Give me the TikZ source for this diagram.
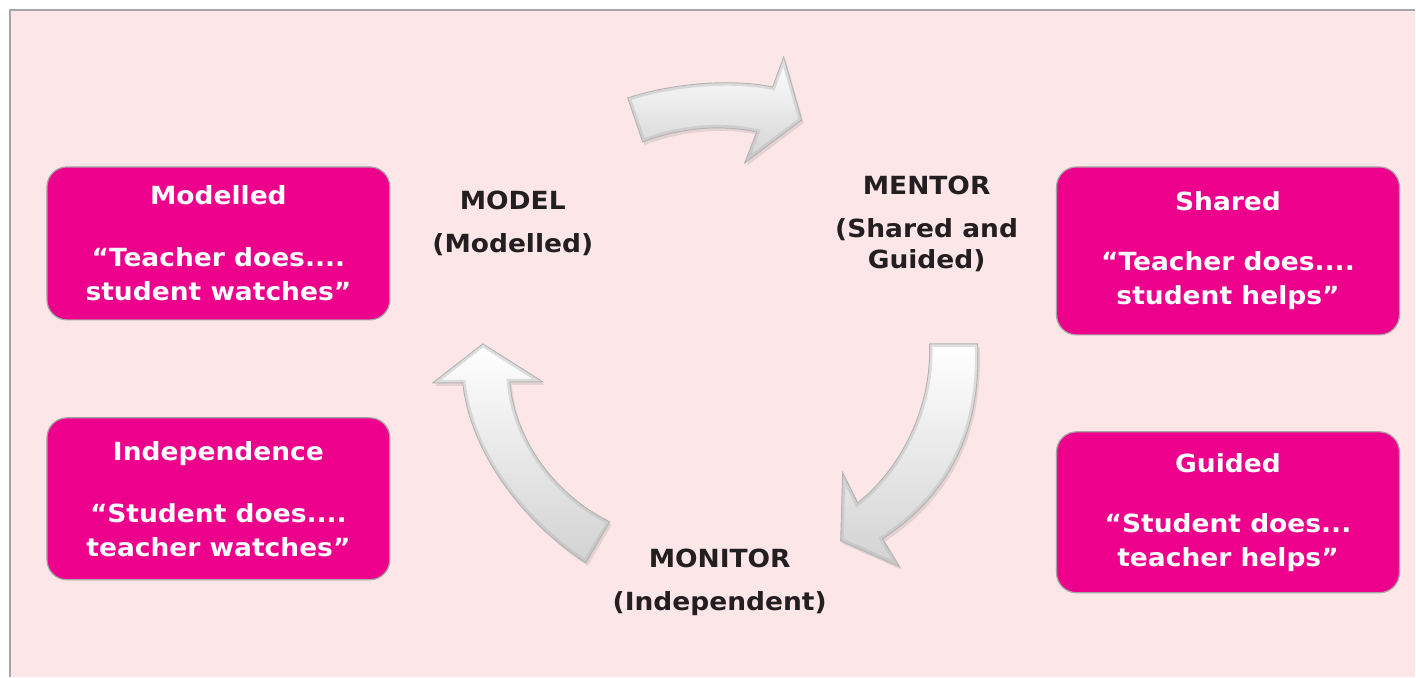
\documentclass[tikz,border=0pt]{standalone}
\usepackage{fontspec}
\setmainfont{DejaVu Sans}[FakeStretch=1.06]
\usepackage{tikz}
\usetikzlibrary{
    shadows
  , positioning
}
\definecolor{bgpink}{HTML}{FDE6E7}
\definecolor{cardpink}{HTML}{EC008C}
\definecolor{labeldark}{HTML}{231F20}
\tikzset{
  cardbox/.style={draw=gray!70, line width=1.2pt, fill=cardpink, rounded corners=20pt,
    minimum width=343pt, text=white, align=center,
    font=\bfseries\fontsize{25}{34}\selectfont},
  stagelabel/.style={text=labeldark, align=center,
    font=\bfseries\fontsize{25}{31}\selectfont},
  bigarrow/.style={draw=gray!60, line width=0.9pt, top color=white, bottom color=gray!35,
    drop shadow={opacity=0.2, shadow xshift=2pt, shadow yshift=-3pt}},
  arrowrim/.style={draw=gray!55, line width=6pt, opacity=0.45}
}
% arrow outlines
\newcommand\modelarrow{(628,98) .. controls (670,84) and (730,78) .. (773,87) -- (784,57) -- (802,120)
    -- (745,163) -- (757,132) .. controls (720,124) and (680,128) .. (643,142) -- cycle}
\newcommand\mentorarrow{(930,344) -- (978,344) .. controls (982,430) and (950,495) .. (883,539)
    -- (900,567) -- (841,541) -- (843,473) -- (858,503) .. controls (900,470) and (932,410) .. (930,344) -- cycle}
\newcommand\monitorarrow{(610,522) -- (586,563) .. controls (520,520) and (470,450) .. (463,383)
    -- (433,383) -- (483,344) -- (543,382) -- (510,382) .. controls (515,440) and (555,495) .. (610,522) -- cycle}

\begin{document}
\begin{tikzpicture}[x=1pt, y=-1pt]
  % Background and frame
  \fill[white] (0,0) rectangle (1416,677);
  \fill[bgpink] (10,10) rectangle (1416,677);
  \draw[gray!70, line width=1.2pt] (10,677) -- (10,10) -- (1416,10);
  \useasboundingbox (0,0) rectangle (1416,677);
  % Cards
  \node[cardbox, minimum height=153pt] (modelled) at (218.5,243.5) {Modelled\\[28pt]“Teacher does....\\student watches”};
  \node[cardbox, minimum height=168pt] (shared) at (1228.5,251) {Shared\\[26pt]“Teacher does....\\student helps”};
  \node[cardbox, minimum height=162pt] (indep) at (218.5,499) {Independence\\[28pt]“Student does....\\teacher watches”};
  \node[cardbox, minimum height=161pt] (guided) at (1228.5,512.5) {Guided\\[26pt]“Student does...\\teacher helps”};
  % Stages
  \node[stagelabel] (model) at (513,223) {MODEL\\[12pt](Modelled)};
  \node[stagelabel] (mentor) at (927,224) {MENTOR\\[12pt](Shared and\\Guided)};
  \node[stagelabel] (monitor) at (720,583) {MONITOR\\[12pt](Independent)};
  % Cycle arrows
  \foreach \arrowpath in {\modelarrow, \mentorarrow, \monitorarrow} {
    \path[bigarrow] \arrowpath;
    \begin{scope}
      \clip \arrowpath;
      \path[arrowrim] \arrowpath;
    \end{scope}
  }
\end{tikzpicture}
\end{document}
